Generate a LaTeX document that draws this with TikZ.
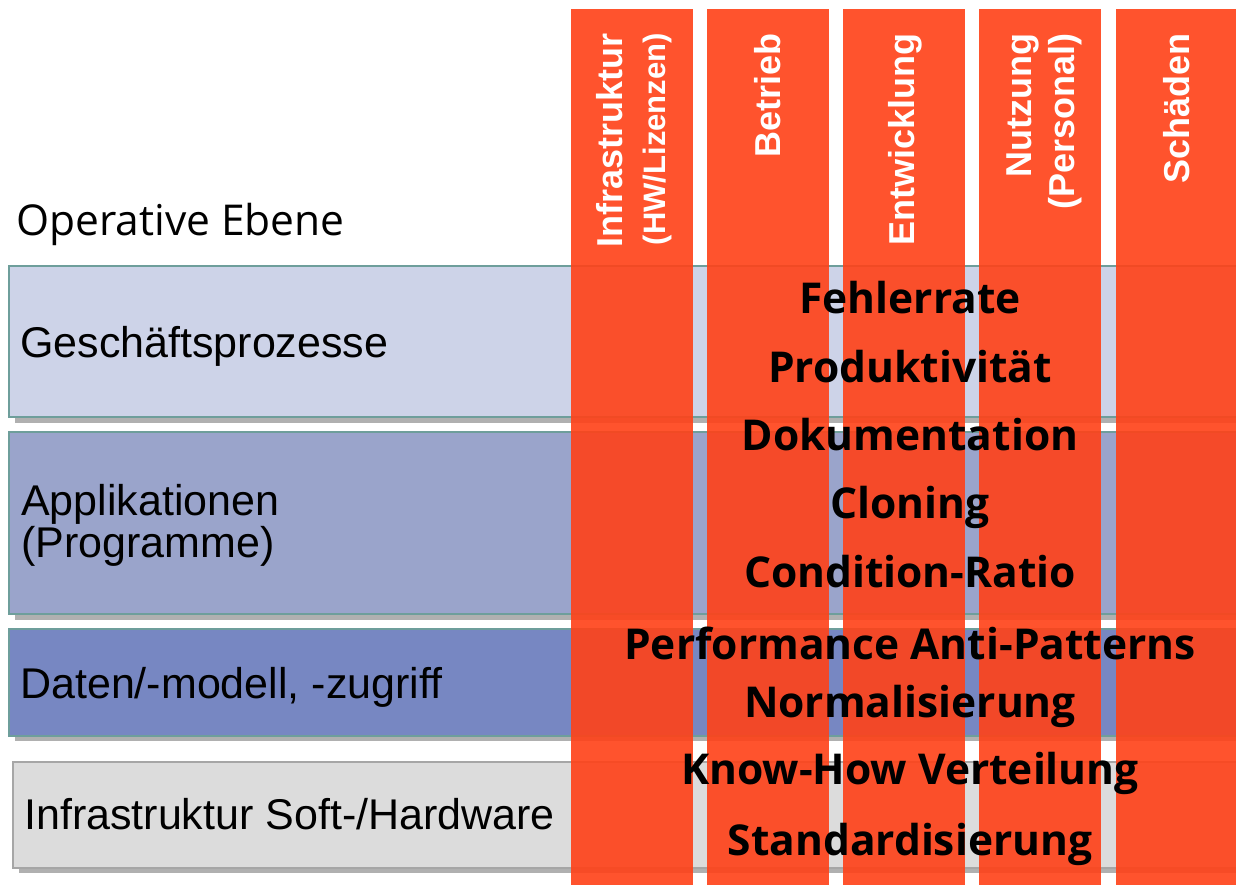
\documentclass[tikz,border=0pt]{standalone}
\usepackage{fontspec}
\setmainfont{Liberation Sans}
\newfontfamily\humfont{Open Sans}
\newfontfamily\opfont{Open Sans}
\definecolor{colred}{RGB}{255,66,25}
\definecolor{boxA}{RGB}{205,211,232}
\definecolor{boxB}{RGB}{154,164,203}
\definecolor{boxC}{RGB}{119,135,194}
\definecolor{boxD}{RGB}{220,220,220}
\definecolor{boxline}{RGB}{110,158,155}
\definecolor{shadowgray}{RGB}{176,176,176}
\tikzset{
  layerbox/.style={draw=boxline, line width=1.5pt},
  shadowbox/.style={fill=shadowgray, draw=none},
  rowlabel/.style={anchor=base west, inner sep=0pt, align=left, font=\fontsize{43}{43}\selectfont},
  colband/.style={fill=colred, draw=none, fill opacity=0.91},
  coltitle/.style={rotate=90, anchor=east, inner sep=0pt, align=right, text=white, font=\bfseries\fontsize{36}{43}\selectfont},
  metric/.style={anchor=base, inner sep=0pt, font=\humfont\bfseries\fontsize{42.5}{42.5}\selectfont}
}
\begin{document}
\begin{tikzpicture}[x=1pt,y=-1pt]
\useasboundingbox (0,0) rectangle (1236,885);
\fill[white] (0,0) rectangle (1236,885);
% shadows
\fill[shadowbox] (15,272) rectangle (1236,423);
\fill[shadowbox] (15,438) rectangle (1236,620);
\fill[shadowbox] (15,635) rectangle (1236,741);
\fill[shadowbox] (19,768) rectangle (1236,873);
% layer boxes
\draw[layerbox, fill=boxA] (9,266) rectangle (1240,417);
\draw[layerbox, fill=boxB] (9,432) rectangle (1240,614);
\draw[layerbox, fill=boxC] (9,629) rectangle (1240,736);
\draw[layerbox, draw=gray!70, fill=boxD] (13,762) rectangle (1240,868);
% labels
\node[anchor=base west, inner sep=0pt, font=\opfont\fontsize{42.5}{42.5}\selectfont] (op) at (16,236) {Operative Ebene};
\node[rowlabel] (gp) at (20,357) {Geschäftsprozesse};
\node[rowlabel] (ap) at (21,515) {Applikationen};
\node[rowlabel] (pg) at (21,557) {(Programme)};
\node[rowlabel] (dm) at (20,698) {Daten/-modell, -zugriff};
\node[rowlabel] (is) at (24,829) {Infrastruktur Soft-/Hardware};
% columns
\foreach \xa/\xb in {571/693, 707/829, 843/965, 979/1101, 1116/1236} {
  \fill[colband] (\xa,9) rectangle (\xb,885);
}
% column titles
\node[coltitle] (c1) at (634,33) {Infrastruktur\\{\fontsize{31}{43}\selectfont (HW/Lizenzen)}};
\node[coltitle] (c2) at (768,33) {Betrieb};
\node[coltitle] (c3) at (905,33) {Entwicklung};
\node[coltitle] (c4) at (1044,33) {Nutzung\\(Personal)};
\node[coltitle] (c5) at (1177,33) {Schäden};
% metrics
\node[metric] (m1) at (910,313) {Fehlerrate};
\node[metric] (m2) at (910,382) {Produktivität};
\node[metric] (m3) at (910,450) {Dokumentation};
\node[metric] (m4) at (910,518) {Cloning};
\node[metric] (m5) at (910,587) {Condition-Ratio};
\node[metric] (m6) at (910,659) {Performance Anti-Patterns};
\node[metric] (m7) at (910,717) {Normalisierung};
\node[metric] (m8) at (910,784) {Know-How Verteilung};
\node[metric] (m9) at (910,855) {Standardisierung};
\end{tikzpicture}
\end{document}
